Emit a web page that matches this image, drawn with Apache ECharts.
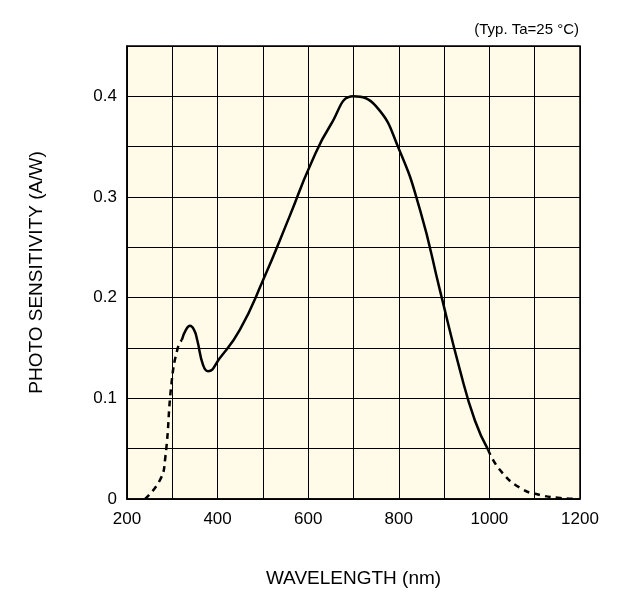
<!DOCTYPE html>
<html>
<head>
<meta charset="utf-8">
<script src="https://cdn.jsdelivr.net/npm/echarts@6/dist/echarts.min.js"></script>
<style>html,body{margin:0;padding:0;background:#fff}#chart{width:623px;height:597px}</style>
</head>
<body>
<div id="chart"></div>
<script>
// data: [wavelength nm, sensitivity A/W]
var dashedLow = [[240, 0], [273, 0.019], [284, 0.039], [299, 0.118], [312, 0.150], [321, 0.158]];
var solidMain = [[321, 0.158], [330, 0.168], [339, 0.172], [348, 0.168], [355, 0.158], [368, 0.133], [379, 0.127],
  [405, 0.14], [449, 0.168], [500, 0.217], [560, 0.282], [604, 0.331], [650, 0.372], [700, 0.4],
  [750, 0.39], [800, 0.348], [847, 0.287], [891, 0.207], [935, 0.128], [968, 0.078], [997, 0.049]];
var dashedHigh = [[997, 0.049], [1023, 0.029], [1068, 0.011], [1112, 0.004], [1156, 0.001], [1196, 0]];
var xTicks = [200, 400, 600, 800, 1000, 1200];
var yTicks = [0, 0.1, 0.2, 0.3, 0.4];

var myChart = echarts.init(document.getElementById("chart"));
var font = "Liberation Sans, Arial, sans-serif";
var option = {
  animation: false,
  backgroundColor: "#fff",
  textStyle: { fontFamily: font },
  grid: {
    left: 127, right: 43, top: 46, bottom: 98,
    show: true, backgroundColor: "#fffbe8", borderColor: "#000", borderWidth: 1.5
  },
  graphic: [
    { type: "text", right: 44, top: 22, style: { text: "(Typ. Ta=25 °C)", fontSize: 15, fontFamily: font, fill: "#000" } }
  ],
  xAxis: {
    type: "value", min: 200, max: 1200, interval: 100,
    name: "WAVELENGTH (nm)", nameLocation: "middle", nameGap: 70,
    nameTextStyle: { fontSize: 19, color: "#000" },
    axisLine: { lineStyle: { color: "#000", width: 1.5 } },
    axisTick: { show: false },
    axisLabel: {
      color: "#000", fontSize: 17, margin: 12,
      formatter: function (v) { return xTicks.indexOf(v) >= 0 ? String(v) : ""; }
    },
    splitLine: { lineStyle: { color: "#000", width: 1 } }
  },
  yAxis: {
    type: "value", min: 0, max: 0.45, interval: 0.05,
    name: "PHOTO SENSITIVITY (A/W)", nameLocation: "middle", nameGap: 81, nameRotate: 90,
    nameTextStyle: { fontSize: 19, color: "#000" },
    axisLine: { lineStyle: { color: "#000", width: 1.5 } },
    axisTick: { show: false },
    axisLabel: {
      color: "#000", fontSize: 17, margin: 10,
      formatter: function (v) {
        var r = Math.round(v * 100) / 100;
        return yTicks.indexOf(r) >= 0 ? String(r) : "";
      }
    },
    splitLine: { lineStyle: { color: "#000", width: 1 } }
  },
  series: [
    { type: "line", data: dashedLow, smooth: true, symbol: "none", lineStyle: { color: "#000", width: 2.5, type: [6, 5] } },
    { type: "line", data: solidMain, smooth: 0.5, symbol: "none", lineStyle: { color: "#000", width: 2.5 } },
    { type: "line", data: dashedHigh, smooth: true, symbol: "none", lineStyle: { color: "#000", width: 2.5, type: [6, 5] } }
  ]
};
myChart.setOption(option);
</script>
</body>
</html>
